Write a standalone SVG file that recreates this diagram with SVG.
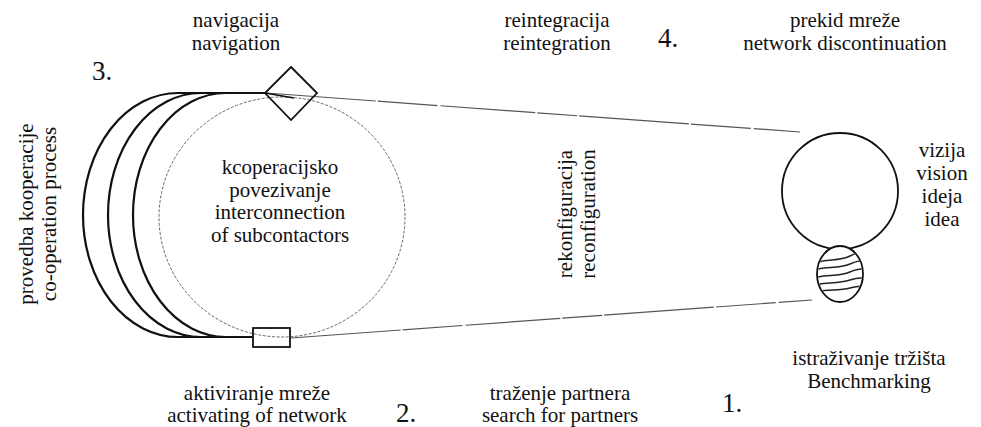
<svg xmlns="http://www.w3.org/2000/svg" width="981" height="427" viewBox="0 0 981 427">
  <style>
    text { font-family: "Liberation Serif", "Times New Roman", Times, "DejaVu Serif", serif; font-size: 21px; fill: #111; }
    .c { text-anchor: middle; }
    .num { font-size: 27px; }
    .arc { fill: none; stroke: #111; stroke-width: 2.2; }
    .shape { fill: none; stroke: #111; stroke-width: 1.8; }
    .dotted { fill: none; stroke: #666; stroke-width: 1; stroke-dasharray: 3 1.6; }
    .link { fill: none; stroke: #555; stroke-width: 1.2; stroke-dasharray: 110 2 60 3 95 2 40 2; }
    .hatch { fill: none; stroke: #222; stroke-width: 1.5; }
  </style>
  <defs>
    <clipPath id="hatchClip">
      <ellipse cx="840" cy="274" rx="22" ry="27"/>
    </clipPath>
  </defs>
  <rect width="981" height="427" fill="#fff"/>

  <!-- connectors: reconfiguration lines to the vision circle -->
  <g id="connectors">
    <path class="link" d="M266,93 L800,132"/>
    <path class="link" d="M291,338 L812,300"/>
  </g>

  <!-- co-operation process: three nested arcs -->
  <g id="cooperation-process">
    <path class="arc" d="M266,93 L178,93 A95,122 0 0 0 178,337 L253,337"/>
    <path class="arc" d="M266,93 L201,93 A93,122 0 0 0 201,337 L253,337"/>
    <path class="arc" d="M266,93 L226,93 A93,122 0 0 0 226,337 L253,337"/>
    <text transform="translate(33,214) rotate(-90)" class="c">provedba kooperacije</text>
    <text transform="translate(56,214) rotate(-90)" class="c">co-operation process</text>
  </g>

  <!-- interconnection of subcontractors: dotted circle -->
  <g id="interconnection">
    <ellipse class="dotted" cx="282" cy="217" rx="123" ry="120"/>
    <text class="c" x="280" y="174">kcoperacijsko</text>
    <text class="c" x="280" y="197">povezivanje</text>
    <text class="c" x="280" y="219">interconnection</text>
    <text class="c" x="280" y="242">of subcontactors</text>
  </g>

  <!-- navigation diamond -->
  <g id="navigation">
    <polygon class="shape" points="291,67 317,93 291,120 265,93"/>
    <path d="M265,93 L294,98" stroke="#111" stroke-width="1.6" fill="none"/>
    <text class="c" x="236" y="27">navigacija</text>
    <text class="c" x="236" y="50">navigation</text>
    <text class="num" x="92" y="80">3.</text>
  </g>

  <!-- network activation box -->
  <g id="activation">
    <rect class="shape" x="253" y="328" width="37" height="19" fill="#fff"/>
    <text class="c" x="257" y="400">aktiviranje mreže</text>
    <text class="c" x="257" y="422">activating of network</text>
    <text class="num" x="396" y="422">2.</text>
  </g>

  <!-- reintegration label -->
  <g id="reintegration">
    <text class="c" x="557" y="27">reintegracija</text>
    <text class="c" x="557" y="50">reintegration</text>
  </g>

  <!-- network discontinuation label -->
  <g id="discontinuation">
    <text class="num" x="658" y="47">4.</text>
    <text class="c" x="845" y="27">prekid mreže</text>
    <text class="c" x="845" y="50">network discontinuation</text>
  </g>

  <!-- reconfiguration label -->
  <g id="reconfiguration">
    <text transform="translate(572,214) rotate(-90)" class="c">rekonfiguracija</text>
    <text transform="translate(595,214) rotate(-90)" class="c">reconfiguration</text>
  </g>

  <!-- search for partners label -->
  <g id="partners">
    <text class="c" x="560" y="400">traženje partnera</text>
    <text class="c" x="560" y="422">search for partners</text>
  </g>

  <!-- vision circle -->
  <g id="vision">
    <circle class="shape" cx="840" cy="191" r="58" fill="#fff"/>
    <text class="c" x="942" y="157">vizija</text>
    <text class="c" x="942" y="180">vision</text>
    <text class="c" x="942" y="203">ideja</text>
    <text class="c" x="942" y="226">idea</text>
  </g>

  <!-- market research: hatched ellipse -->
  <g id="market-research">
    <ellipse cx="840" cy="274" rx="23" ry="28" fill="#fff" stroke="#111" stroke-width="1.8"/>
    <g clip-path="url(#hatchClip)">
      <path class="hatch" d="M815,263 C828,258 838,262 850,256 S862,254 866,252"/>
      <path class="hatch" d="M814,270 C826,266 838,269 850,264 S862,262 866,260"/>
      <path class="hatch" d="M814,278 C826,274 838,277 850,272 S862,270 866,269"/>
      <path class="hatch" d="M814,285 C826,282 838,284 850,280 S862,279 866,278"/>
      <path class="hatch" d="M816,292 C828,289 838,291 850,288 S860,287 864,286"/>
    </g>
    <text class="c" x="869" y="365">istraživanje tržišta</text>
    <text class="c" x="869" y="388">Benchmarking</text>
    <text class="num" x="722" y="412">1.</text>
  </g>
</svg>
